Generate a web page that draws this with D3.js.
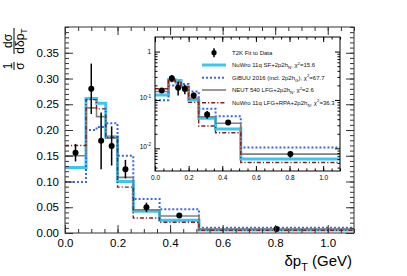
<!DOCTYPE html>
<html>
<head>
<meta charset="utf-8">
<script src="https://cdn.jsdelivr.net/npm/d3@7"></script>
<style>
  body { margin: 0; background: #fff; }
  svg { display: block; }
  text { font-family: "Liberation Sans", Arial, Helvetica, sans-serif; }
</style>
</head>
<body>
<svg id="chart" width="407" height="276"></svg>
<script>
// bin edges of the delta pT histogram (GeV)
const binEdges = [0, 0.08, 0.12, 0.155, 0.2, 0.26, 0.36, 0.51, 1.1];

// T2K data (bin centres, values, errors)
const dataCentres = [0.04, 0.10, 0.1375, 0.1775, 0.23, 0.31, 0.435, 0.805];
const dataValues = [0.156, 0.280, 0.179, 0.169, 0.124, 0.050, 0.034, 0.0076];
const dataErrors = [0.017, 0.049, 0.055, 0.038, 0.018, 0.009, 0.004, 0.0012];

// generator predictions per bin
const nuwroSF = [0.127, 0.261, 0.252, 0.187, 0.100, 0.042, 0.025, 0.0060];
const gibuu = [0.099, 0.200, 0.206, 0.213, 0.150, 0.066, 0.046, 0.0104];
const neut = [0.150, 0.243, 0.226, 0.184, 0.108, 0.045, 0.033, 0.0076];
const nuwroRPA = [0.170, 0.259, 0.241, 0.186, 0.089, 0.029, 0.021, 0.0051];

const legendLabels = [
  "T2K Fit to Data",
  "NuWro 11q SF+2p2h_{N}, χ^{2}=15.6",
  "GiBUU 2016 (incl. 2p2h_{G}), χ^{2}=67.7",
  "NEUT 540 LFG+2p2h_{N}, χ^{2}=2.6",
  "NuWro 11q LFG+RPA+2p2h_{N}, χ^{2}=36.3"
];

const xTicks = [0, 0.2, 0.4, 0.6, 0.8, 1.0];
const yTicks = [0, 0.05, 0.1, 0.15, 0.2, 0.25, 0.3, 0.35];
const logTicks = [0.01, 0.1, 1];

const series = [
  { values: nuwroSF, color: "#38c8f4", width: 3, dash: null },
  { values: gibuu, color: "#3c64f0", width: 2, dash: "2,2" },
  { values: neut, color: "#808080", width: 1.6, dash: null },
  { values: nuwroRPA, color: "#8b1c1c", width: 1.4, dash: "4,2,1.2,2" }
];

const svg = d3.select("#chart");

// write a string with _{sub} and ^{sup} parts as tspans
function richText(sel, str, size) {
  const parts = str.split(/(_\{[^}]*\}|\^\{[^}]*\})/).filter(p => p.length);
  let shift = 0;
  parts.forEach(p => {
    const t = sel.append("tspan");
    if (p.startsWith("_{")) {
      t.attr("font-size", size * 0.72).attr("dy", size * 0.3 - shift).text(p.slice(2, -1));
      shift = size * 0.3;
    } else if (p.startsWith("^{")) {
      t.attr("font-size", size * 0.72).attr("dy", -size * 0.42 - shift).text(p.slice(2, -1));
      shift = -size * 0.42;
    } else {
      t.attr("dy", -shift).text(p);
      shift = 0;
    }
  });
}

function stepPoints(values) {
  const pts = [];
  values.forEach((v, i) => {
    pts.push([binEdges[i], v]);
    pts.push([binEdges[i + 1], v]);
  });
  return pts;
}

function minorRange(lo, hi, step) {
  return d3.range(Math.round(lo / step), Math.round(hi / step) + 1).map(i => +(i * step).toFixed(6));
}

// ROOT style frame: ticks pointing inward on all four sides
// returns the labelled left axis group
function drawFrame(g, xs, ys, opt) {
  const [x0, x1] = xs.range();
  const [y1, y0] = ys.range();
  const sides = [
    { axis: d3.axisBottom, scale: xs, tr: `translate(0,${y1})`, major: opt.xMajor, minor: opt.xMinor, fmt: opt.xFormat },
    { axis: d3.axisTop, scale: xs, tr: `translate(0,${y0})`, major: opt.xMajor, minor: opt.xMinor, fmt: null },
    { axis: d3.axisLeft, scale: ys, tr: `translate(${x0},0)`, major: opt.yMajor, minor: opt.yMinor, fmt: opt.yFormat },
    { axis: d3.axisRight, scale: ys, tr: `translate(${x1},0)`, major: opt.yMajor, minor: opt.yMinor, fmt: null }
  ];
  let leftAxis = null;
  sides.forEach((s, i) => {
    const minG = g.append("g").attr("transform", s.tr)
      .call(s.axis(s.scale).tickValues(s.minor).tickSize(-opt.minorLen).tickFormat(""));
    minG.select(".domain").remove();
    minG.selectAll("text").remove();
    const majG = g.append("g").attr("transform", s.tr)
      .call(s.axis(s.scale).tickValues(s.major).tickSize(-opt.majorLen)
        .tickPadding(opt.pad).tickFormat(s.fmt || ""));
    majG.select(".domain").remove();
    if (!s.fmt) majG.selectAll("text").remove();
    majG.selectAll("text").attr("font-size", opt.fontSize).attr("fill", "#000")
      .attr("font-family", "Liberation Sans, Arial, sans-serif");
    if (i === 2) leftAxis = majG;
  });
  g.selectAll(".tick line").attr("stroke", opt.color);
  g.append("rect")
    .attr("x", x0).attr("y", y0).attr("width", x1 - x0).attr("height", y1 - y0)
    .attr("fill", "none").attr("stroke", opt.color).attr("stroke-width", 1);
  return leftAxis;
}

function drawHistograms(g, xs, ys, clipId) {
  const line = d3.line().x(d => xs(d[0])).y(d => ys(d[1]));
  series.forEach(s => {
    g.append("path")
      .datum(stepPoints(s.values))
      .attr("clip-path", `url(#${clipId})`)
      .attr("fill", "none")
      .attr("stroke", s.color)
      .attr("stroke-width", s.width)
      .attr("stroke-dasharray", s.dash)
      .attr("d", line);
  });
  const pts = g.append("g").attr("clip-path", `url(#${clipId})`);
  dataValues.forEach((v, i) => {
    pts.append("line")
      .attr("x1", xs(dataCentres[i])).attr("x2", xs(dataCentres[i]))
      .attr("y1", ys(v - dataErrors[i])).attr("y2", ys(v + dataErrors[i]))
      .attr("stroke", "#000").attr("stroke-width", 1.5);
    pts.append("circle")
      .attr("cx", xs(dataCentres[i])).attr("cy", ys(v))
      .attr("r", 3).attr("fill", "#000");
  });
}

function addClip(id, xs, ys) {
  svg.append("clipPath").attr("id", id).append("rect")
    .attr("x", xs.range()[0]).attr("y", ys.range()[1])
    .attr("width", xs.range()[1] - xs.range()[0])
    .attr("height", ys.range()[0] - ys.range()[1]);
}

// ---------- main pad ----------
const x = d3.scaleLinear([0, 1.1], [65, 354]);
const y = d3.scaleLinear([0, 0.4], [233, 27]);
addClip("main-area", x, y);

const mainG = svg.append("g");
drawHistograms(mainG, x, y, "main-area");
drawFrame(mainG, x, y, {
  xMajor: xTicks, xMinor: minorRange(0, 1.1, 0.05),
  yMajor: yTicks, yMinor: minorRange(0, 0.4, 0.01),
  majorLen: 8, minorLen: 4, pad: 6, fontSize: 11.5, color: "#333",
  xFormat: d3.format(".1f"), yFormat: d3.format(".2f")
});

// x title
richText(svg.append("text")
  .attr("x", 352).attr("y", 266).attr("text-anchor", "end").attr("font-size", 15),
  "δp_{T} (GeV)", 15);

// y title : 1/σ dσ/dδpT as two stacked fractions, rotated
const yTitle = svg.append("g").attr("transform", "translate(14,48) rotate(-90)");
function fraction(cx, num, den, halfLen, size) {
  yTitle.append("line")
    .attr("x1", cx - halfLen).attr("x2", cx + halfLen)
    .attr("y1", 0).attr("y2", 0).attr("stroke", "#000").attr("stroke-width", 1);
  richText(yTitle.append("text").attr("x", cx).attr("y", -2.5)
    .attr("text-anchor", "middle").attr("font-size", size), num, size);
  richText(yTitle.append("text").attr("x", cx).attr("y", size * 0.82)
    .attr("text-anchor", "middle").attr("font-size", size), den, size);
}
fraction(-18, "1", "σ", 4, 12);
fraction(7, "dσ", "dδp_{T}", 13, 12);

// ---------- inset pad ----------
const xi = d3.scaleLinear([0, 1.1], [155, 340]);
const yi = d3.scaleLog([0.0034, 2], [171, 37]);
addClip("inset-area", xi, yi);

const insetG = svg.append("g");
insetG.append("rect")
  .attr("x", 155).attr("y", 37).attr("width", 185).attr("height", 134).attr("fill", "#fff");
drawHistograms(insetG, xi, yi, "inset-area");

const logMinor = [];
[-3, -2, -1, 0].forEach(e => d3.range(2, 10).forEach(k => {
  const v = k * Math.pow(10, e);
  if (v > 0.0034 && v < 2) logMinor.push(v);
}));
const insetLeft = drawFrame(insetG, xi, yi, {
  xMajor: xTicks, xMinor: minorRange(0, 1.1, 0.05),
  yMajor: logTicks, yMinor: logMinor,
  majorLen: 5, minorLen: 2.5, pad: 4, fontSize: 6.5, color: "#000",
  xFormat: d3.format(".1f"), yFormat: () => ""
});
// log labels 1, 10^-1, 10^-2
insetLeft.selectAll("g.tick").each(function (d) {
  const t = d3.select(this).select("text");
  if (d === 1) t.text("1");
  else richText(t, "10^{" + Math.round(Math.log10(d)) + "}", 6.5);
});

// legend
const legendRows = [52.7, 65, 77.7, 90, 102.7];
const legendG = svg.append("g");
legendLabels.forEach((label, i) => {
  const ly = legendRows[i];
  if (i === 0) {
    legendG.append("line").attr("x1", 214).attr("x2", 214)
      .attr("y1", ly - 4.5).attr("y2", ly + 4.5).attr("stroke", "#000").attr("stroke-width", 1.5);
    legendG.append("circle").attr("cx", 214).attr("cy", ly).attr("r", 2.6).attr("fill", "#000");
  } else {
    const s = series[i - 1];
    legendG.append("line").attr("x1", 202).attr("x2", 226)
      .attr("y1", ly).attr("y2", ly)
      .attr("stroke", s.color).attr("stroke-width", s.width).attr("stroke-dasharray", s.dash);
  }
  richText(legendG.append("text").attr("x", 232).attr("y", ly + 2.2)
    .attr("font-size", 6).attr("fill", "#111"), label, 6);
});
</script>
</body>
</html>
